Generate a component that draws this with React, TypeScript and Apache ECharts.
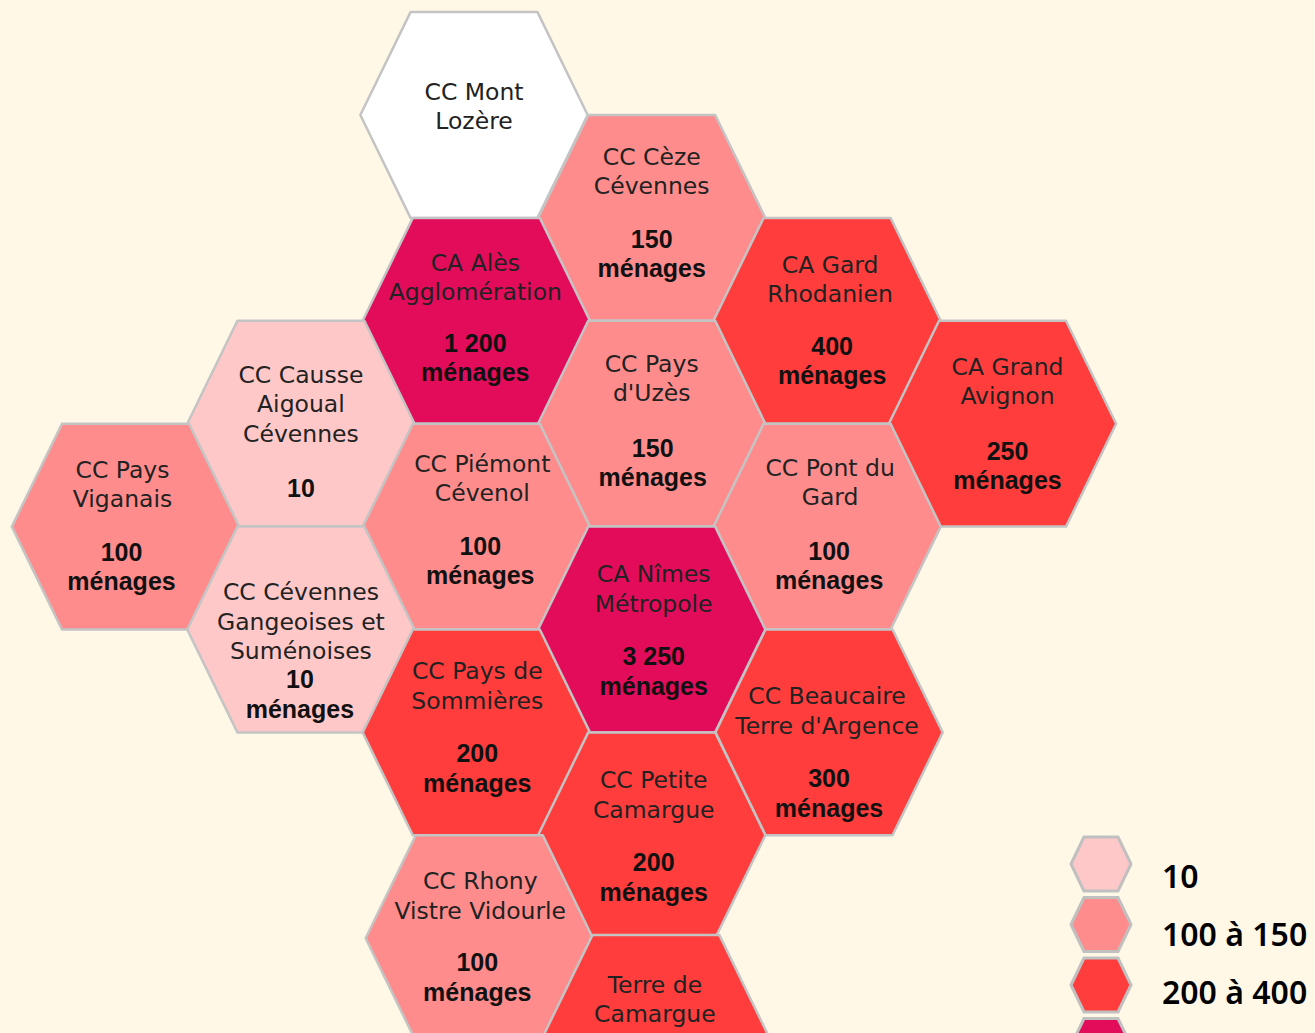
import React, { useEffect, useRef } from "react";
import * as echarts from "echarts";

const W = 1315;
const H = 1033;

// Territories and their household counts (null: not shown or not readable)
const names = [
  "CC Mont\nLozère", "CC Cèze\nCévennes", "CA Alès\nAgglomération", "CA Gard\nRhodanien",
  "CA Grand\nAvignon", "CC Pays\nd'Uzès", "CC Causse\nAigoual\nCévennes", "CC Pays\nViganais",
  "CC Piémont\nCévenol", "CC Pont du\nGard", "CA Nîmes\nMétropole", "CC Cévennes\nGangeoises et\nSuménoises",
  "CC Pays de\nSommières", "CC Beaucaire\nTerre d'Argence", "CC Petite\nCamargue", "CC Rhony\nVistre Vidourle",
  "Terre de\nCamargue",
];
const households: (number | null)[] = [null, 150, 1200, 400, 250, 150, 10, 100, 100, 100, 3250, 10, 200, 300, 200, 100, null];
const classes = [0, 2, 4, 3, 3, 2, 1, 2, 2, 2, 4, 1, 3, 3, 3, 2, 3];
const columns = [1.987, 3, 2, 4, 5, 3, 1, 0, 2, 4, 3, 1, 2, 4.011, 3, 2.017, 3.024];
const rows = [0, 1, 2, 2, 3, 3, 3, 4, 4, 4, 5, 5, 6, 6, 7, 8, 8.97];
const unitless = ["CC Causse\nAigoual\nCévennes"];

const legendLabels = ["10", "100 à 150", "200 à 400", ""];
const legendClasses = [1, 2, 3, 4];

const classColors = ["#ffffff", "#ffc8c8", "#ff8c8c", "#ff3d3d", "#e20c5b"];

// Layout: [name dx, first name line dy, value dx, first value line dy] from the hex centre
const labelLayout = [
  [0, -24, 0, 0], [0, -62, 0, 21], [-1, -59, -1, 22], [3, -57, 5, 25],
  [5, -58, 5, 27], [0, -61, 1, 24], [0, -50, 0, 64], [-3, -58, -4, 25],
  [6, -64, 4, 19], [3, -60, 2, 24], [2, -56, 2, 27], [0, -38, -1, 50],
  [1, -62, 1, 21], [-2, -37, 0, 46], [2, -56, 2, 27], [1, -58, -2, 24],
  [-1, -54, 0, 0],
];

const LINE = 29.4;
const NAME_DROP = 1;
const NAME_FONT = "23.5px 'DejaVu Sans', sans-serif";
const VALUE_FONT = "bold 25px 'Liberation Sans', sans-serif";

const formatCount = (v: number) => String(v).replace(/\B(?=(\d{3})+$)/g, " ");

function hexPoints(cx: number, cy: number, hw: number, tw: number, hh: number) {
  return [
    [cx - hw, cy], [cx - tw, cy - hh], [cx + tw, cy - hh],
    [cx + hw, cy], [cx + tw, cy + hh], [cx - tw, cy + hh],
  ];
}

export default function App() {
  const ref = useRef<HTMLDivElement>(null);

  useEffect(() => {
    document.body.style.margin = "0";
    document.body.style.overflow = "hidden";
    document.body.style.background = "#fff8e6";
    const chart = echarts.init(ref.current!, undefined, { renderer: "svg" });

    const renderHex = (params: any, api: any) => {
      const i = api.value(3) as number;
      const [cx, cy] = api.coord([api.value(0), api.value(1)]);
      const [sx, sy] = api.size([1, 1]);
      const [ndx, ndy, vdx, vdy] = labelLayout[i];
      const children: any[] = [
        {
          type: "polygon",
          shape: { points: hexPoints(cx, cy, sx * 0.648, sx * 0.362, sy) },
          style: { fill: classColors[api.value(2) as number], stroke: "#c4c4c4", lineWidth: 2.5, lineJoin: "round" },
        },
        {
          type: "text",
          x: cx + ndx,
          y: cy + ndy + NAME_DROP - LINE / 2,
          style: { text: names[i], font: NAME_FONT, lineHeight: LINE, fill: "#222222", align: "center", verticalAlign: "top" },
        },
      ];
      const v = households[i];
      if (v !== null) {
        const text = unitless.includes(names[i]) ? formatCount(v) : `${formatCount(v)}\nménages`;
        children.push({
          type: "text",
          x: cx + vdx,
          y: cy + vdy - LINE / 2,
          style: { text, font: VALUE_FONT, lineHeight: LINE, fill: "#111111", align: "center", verticalAlign: "top" },
        });
      }
      return { type: "group", children };
    };

    const renderLegend = (params: any, api: any) => {
      const i = api.value(1) as number;
      const [cx, cy] = api.coord([0, i]);
      const children: any[] = [
        {
          type: "polygon",
          shape: { points: hexPoints(cx, cy, 30, 17, 27) },
          style: { fill: classColors[legendClasses[i]], stroke: "#c0c0c0", lineWidth: 3 },
        },
      ];
      if (legendLabels[i]) {
        children.push({
          type: "text",
          x: cx + 61,
          y: cy + 11 - i * 2.5,
          style: {
            text: legendLabels[i],
            font: "600 32px 'Noto Sans', sans-serif",
            fill: "#000000",
            align: "left",
            verticalAlign: "middle",
          },
        });
      }
      return { type: "group", children };
    };

    const hidden = { show: false };
    chart.setOption({
      animation: false,
      backgroundColor: "#fff8e6",
      grid: [
        { left: 0, top: 0, width: W, height: H },
        { left: 1101, top: 864, width: 10, height: 121 },
      ],
      xAxis: [
        { type: "value", gridIndex: 0, min: -125.5 / 175.4, max: (W - 125.5) / 175.4, ...hidden },
        { type: "value", gridIndex: 1, min: 0, max: 1, ...hidden },
      ],
      yAxis: [
        { type: "value", gridIndex: 0, inverse: true, min: -115 / 102.9, max: (H - 115) / 102.9, ...hidden },
        { type: "value", gridIndex: 1, inverse: true, min: 0, max: 2, ...hidden },
      ],
      series: [
        {
          type: "custom",
          name: "Ménages",
          xAxisIndex: 0,
          yAxisIndex: 0,
          clip: false,
          renderItem: renderHex,
          data: names.map((_, i) => [columns[i], rows[i], classes[i], i]),
        },
        {
          type: "custom",
          name: "Légende",
          xAxisIndex: 1,
          yAxisIndex: 1,
          clip: false,
          renderItem: renderLegend,
          data: legendClasses.map((c, i) => [0, i, c]),
        },
      ],
    });
    return () => chart.dispose();
  }, []);

  return <div ref={ref} style={{ width: W, height: H }} />;
}
